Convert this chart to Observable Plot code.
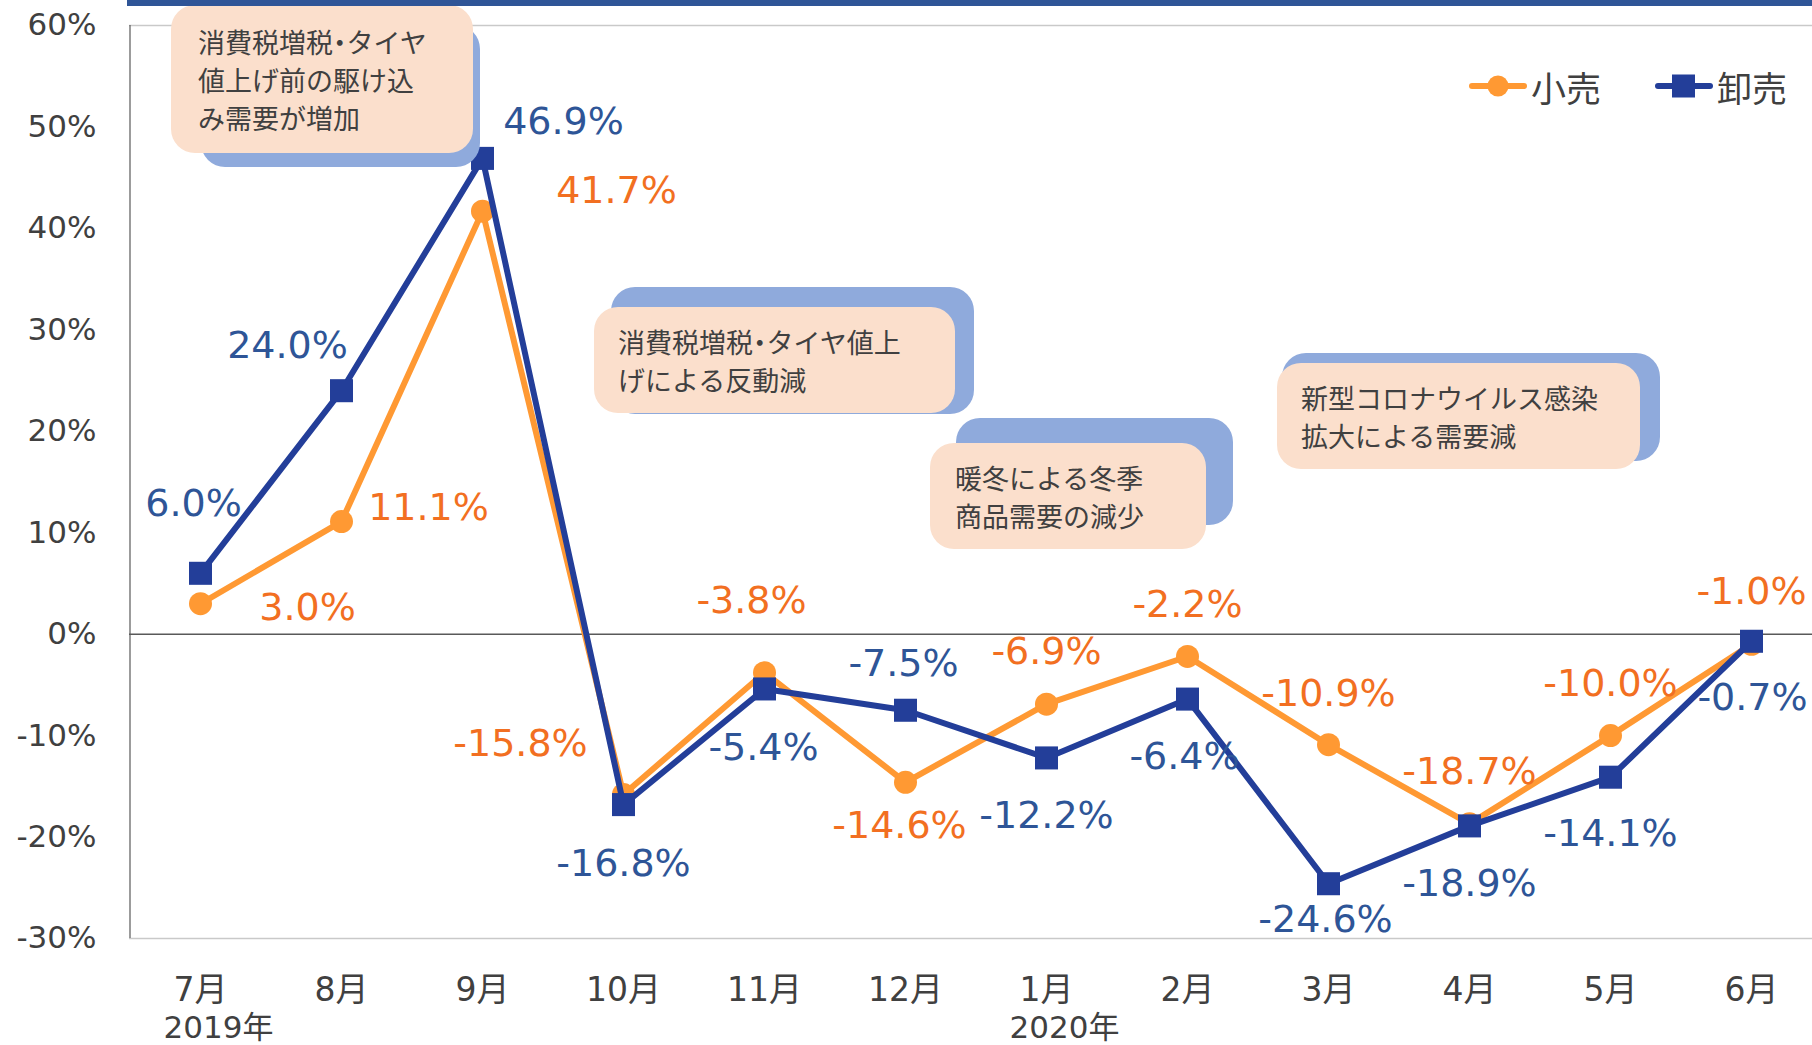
<!DOCTYPE html>
<html><head><meta charset="utf-8">
<script src="https://cdn.jsdelivr.net/npm/d3@7"></script>
<script src="https://cdn.jsdelivr.net/npm/@observablehq/plot@0.6"></script>
<style>
body{margin:0;background:#fff;}
#wrap{position:relative;width:1812px;height:1045px;overflow:hidden;font-family:"DejaVu Sans","Noto Sans CJK JP",sans-serif;}
#wrap svg{position:absolute;left:0;top:0;}
.topbar{position:absolute;left:127px;top:0;width:1685px;height:6px;background:#2f5597;z-index:5}
.shadow{position:absolute;background:#8faadc;border-radius:24px;}
.note{position:absolute;background:#fbdfcc;border-radius:24px;box-sizing:border-box;font-family:"Noto Sans CJK JP",sans-serif;font-size:27px;line-height:38px;color:#404040;white-space:nowrap;font-feature-settings:"halt";}
.legend{position:absolute;top:66px;height:40px;display:flex;align-items:center;font-family:"Noto Sans CJK JP",sans-serif;font-size:35px;color:#404040;}
.legend svg{position:static !important;margin-right:4px;}
</style></head>
<body>
<div id="wrap"></div>
<script>
// ---- data ----
const months = ["7月","8月","9月","10月","11月","12月","1月","2月","3月","4月","5月","6月"];
const yearLabels = [{month: "7月", label: "2019年"}, {month: "1月", label: "2020年"}];
const retail = [3.0, 11.1, 41.7, -15.8, -3.8, -14.6, -6.9, -2.2, -10.9, -18.7, -10.0, -1.0];     // 小売
const wholesale = [6.0, 24.0, 46.9, -16.8, -5.4, -7.5, -12.2, -6.4, -24.6, -18.9, -14.1, -0.7]; // 卸売
const yTicks = [-30, -20, -10, 0, 10, 20, 30, 40, 50, 60];
const seriesNames = ["小売", "卸売"];
const notes = [
  ["消費税増税・タイヤ", "値上げ前の駆け込", "み需要が増加"],
  ["消費税増税・タイヤ値上", "げによる反動減"],
  ["暖冬による冬季", "商品需要の減少"],
  ["新型コロナウイルス感染", "拡大による需要減"]
];

// ---- styles / layout ----
const ORANGE = "#ff9933", ORANGE_TEXT = "#f26f21";
const BLUE = "#233e99", BLUE_TEXT = "#2e5597";
const retailOffsets = [[107,4],[87,-14],[134,-20],[-103,-51],[-13,-72],[-6,44],[0,-52],[0,-52],[0,-51],[0,-52],[0,-52],[0,-52]];
const wholesaleOffsets = [[-7,-69],[-54,-45],[81,-37],[0,59],[-1,59],[-2,-46],[0,58],[-3,58],[-3,36],[0,58],[0,57],[1,57]];

const retailData = months.map((m, i) => ({month: m, value: retail[i]}));
const wholesaleData = months.map((m, i) => ({month: m, value: wholesale[i]}));
const fmt = v => v.toFixed(1) + "%";

const labelMarks = (data, offsets, color) => data.map((d, i) =>
  Plot.text([d], {x: "month", y: "value", text: d => fmt(d.value), dx: offsets[i][0], dy: offsets[i][1],
    fill: color, fontSize: 38, fontFamily: "DejaVu Sans"}));

const chart = Plot.plot({
  width: 1812, height: 1045,
  marginLeft: 129, marginRight: -10, marginTop: 25, marginBottom: 107,
  style: {fontFamily: "'DejaVu Sans','Noto Sans CJK JP',sans-serif", background: "transparent", overflow: "visible"},
  x: {type: "point", domain: months, padding: 0.5, label: null},
  y: {domain: [-30, 60], label: null},
  marks: [
    Plot.ruleY([60, -30], {stroke: "#c9c9c9", strokeWidth: 1.5}),
    Plot.ruleY([0], {stroke: "#595959", strokeWidth: 1.5}),
    Plot.ruleX([months[0]], {y1: -30, y2: 60, dx: -70.5, stroke: "#595959", strokeWidth: 1.2}),
    Plot.axisY(yTicks, {tickSize: 0, tickPadding: 33, fontSize: 31, color: "#404040", tickFormat: d => d + "%", label: null}),
    Plot.axisX({tickSize: 0, tickPadding: 39, fontSize: 33, color: "#404040", label: null}),
    Plot.text(yearLabels, {x: "month", text: "label", frameAnchor: "bottom", dy: 99, dx: 18, fontSize: 31, fill: "#404040"}),
    Plot.line(retailData, {x: "month", y: "value", stroke: ORANGE, strokeWidth: 6}),
    Plot.dot(retailData, {x: "month", y: "value", r: 11.5, fill: ORANGE, symbol: "circle"}),
    Plot.line(wholesaleData, {x: "month", y: "value", stroke: BLUE, strokeWidth: 6}),
    Plot.dot(wholesaleData, {x: "month", y: "value", r: 13, fill: BLUE, symbol: "square"}),
    ...labelMarks(retailData, retailOffsets, ORANGE_TEXT),
    ...labelMarks(wholesaleData, wholesaleOffsets, BLUE_TEXT)
  ]
});

const wrap = document.getElementById("wrap");
wrap.appendChild(chart);

// top decorative bar
const bar = document.createElement("div"); bar.className = "topbar"; wrap.appendChild(bar);

// annotation callouts: [peach box, blue shadow box, text padding]
const noteBoxes = [
  {box: [171, 5, 302, 148], shadow: [201, 25, 279, 142], pad: [27, 18]},
  {box: [594, 307, 361, 106], shadow: [611, 287, 363, 127], pad: [24, 16]},
  {box: [930, 443, 276, 106], shadow: [956, 418, 277, 107], pad: [25, 16]},
  {box: [1277, 363, 363, 106], shadow: [1282, 353, 378, 108], pad: [24, 16]}
];
noteBoxes.forEach((nb, i) => {
  const s = document.createElement("div"); s.className = "shadow";
  Object.assign(s.style, {left: nb.shadow[0]+"px", top: nb.shadow[1]+"px", width: nb.shadow[2]+"px", height: nb.shadow[3]+"px"});
  wrap.appendChild(s);
  const n = document.createElement("div"); n.className = "note";
  Object.assign(n.style, {left: nb.box[0]+"px", top: nb.box[1]+"px", width: nb.box[2]+"px", height: nb.box[3]+"px",
    paddingLeft: nb.pad[0]+"px", paddingTop: nb.pad[1]+"px"});
  n.innerHTML = notes[i].join("<br>");
  wrap.appendChild(n);
});

// legend
const legendItems = [
  {name: seriesNames[0], color: ORANGE, symbol: "circle", left: 1469},
  {name: seriesNames[1], color: BLUE, symbol: "square", left: 1655}
];
legendItems.forEach(it => {
  const d = document.createElement("div"); d.className = "legend"; d.style.left = it.left + "px";
  const sw = it.symbol === "circle"
    ? `<circle cx="29" cy="20" r="10.5" fill="${it.color}"/>`
    : `<rect x="17" y="8.5" width="23" height="23" fill="${it.color}"/>`;
  d.innerHTML = `<svg width="58" height="40"><line x1="3" x2="55" y1="20" y2="20" stroke="${it.color}" stroke-width="6" stroke-linecap="round"/>${sw}</svg><span>${it.name}</span>`;
  wrap.appendChild(d);
});
</script>
</body></html>
